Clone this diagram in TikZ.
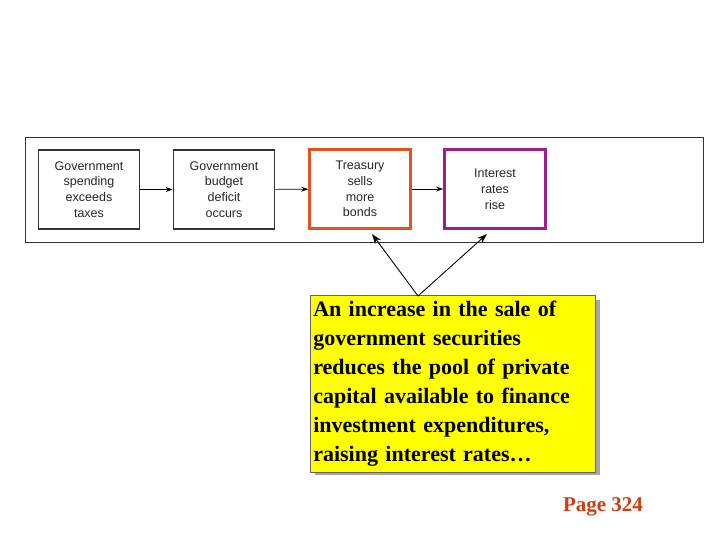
\documentclass[tikz,border=0pt]{standalone}
\usepackage{fontspec}
\setmainfont{Liberation Serif}
\newfontfamily\arial{Liberation Sans}
\usetikzlibrary{arrows.meta}
\begin{document}
\begin{tikzpicture}[x=1pt,y=-1pt,
  flow/.style={draw=black!80,line width=1.8pt,minimum width=101pt,minimum height=79pt,align=center,font=\arial\fontsize{12.5}{15.8}\selectfont,text=black!85,inner sep=0pt},
  conn/.style={-{Stealth[length=7pt,width=5pt]},line width=0.6pt},
  pt/.style={-{Stealth[length=10pt,width=7pt]},line width=0.9pt}]
\useasboundingbox (0,0) rectangle (720,540);
\node[draw=black!80,line width=0.8pt,minimum width=678pt,minimum height=105pt,inner sep=0pt] (frame) at (364,189.5) {};
\node[flow] (b1) at (89,189.5) {Government\\spending\\exceeds\\taxes};
\node[flow] (b2) at (224,189.5) {Government\\budget\\deficit\\occurs};
\node[flow,draw={rgb,255:red,232;green,80;blue,30},line width=2.5pt] (b3) at (360,189) {Treasury\\sells\\more\\bonds};
\node[flow,draw={rgb,255:red,160;green,30;blue,140},line width=2.8pt] (b4) at (495,189) {Interest\\rates\\rise};
\draw[conn] (b1) -- (b2);
\draw[conn] (b2) -- (b3);
\draw[conn] (b3) -- (b4);
\fill[gray!70] (315,300) rectangle (600,475);
\node[draw=black!60,fill={rgb,255:red,255;green,255;blue,0},line width=0.6pt,minimum width=285pt,minimum height=175pt,inner xsep=3pt,inner ysep=6pt,anchor=north west,align=left,text width=279pt,font=\bfseries\fontsize{22}{29}\selectfont] (call) at (310,295) {\raggedright An increase in the sale of\\government securities\\reduces the pool of private\\capital available to finance\\investment expenditures,\\raising interest rates\ldots};
\coordinate (apex) at (418,296);
\coordinate (t3) at (372,234);
\coordinate (t4) at (487,234);
\draw[pt] (apex) -- (t3);
\draw[pt] (apex) -- (t4);
\node[font=\bfseries\fontsize{21}{24}\selectfont,text={rgb,255:red,210;green,60;blue,20}] (page) at (603,507) {Page 324};
\end{tikzpicture}
\end{document}
